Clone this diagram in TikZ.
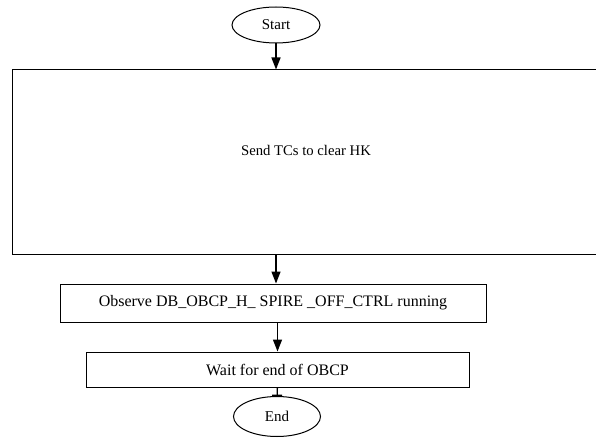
\documentclass[tikz,border=0pt]{standalone}
\usepackage{fontspec}
\setmainfont{Liberation Serif}
\usetikzlibrary{shapes.geometric,arrows.meta}

\begin{document}
\begin{tikzpicture}[x=1pt,y=-1pt,
        terminal/.style={draw,ellipse,line width=1pt,minimum width=88pt,minimum height=36pt,inner sep=0pt,font=\fontsize{15}{18}\selectfont},
        process/.style={draw,rectangle,line width=1pt,inner sep=0pt,font=\fontsize{16}{19}\selectfont},
        flow/.style={-{Triangle[width=9pt,length=12pt]},line width=1.4pt}]
        \clip (0,0) rectangle (596,438);

        \node[terminal] (start) at (276,25) {Start};
        \node[process,minimum width=588pt,minimum height=184pt,text depth=23pt,font=\fontsize{14.7}{18}\selectfont] (send) at (306,162) {Send TCs to clear HK};
        \node[process,minimum width=426pt,minimum height=38pt] (observe) at (273,303) {Observe DB\_OBCP\_H\_ SPIRE \_OFF\_CTRL running};
        \node[process,minimum width=383pt,minimum height=35pt] (wait) at (277.5,369.5) {Wait for end of OBCP};
        \node[terminal,minimum height=40pt,minimum width=87pt] (end) at (277,416.5) {End};

        \draw[flow] (start) -- (start |- send.north);
        \draw[flow] (send.south -| start) -- (observe.north -| start);
        \draw[flow] (observe.south -| wait) -- (wait.north);
        \draw[-{Bar[width=10pt,line width=1.4pt]},line width=1.4pt] (wait) -- (end);
\end{tikzpicture}
\end{document}
